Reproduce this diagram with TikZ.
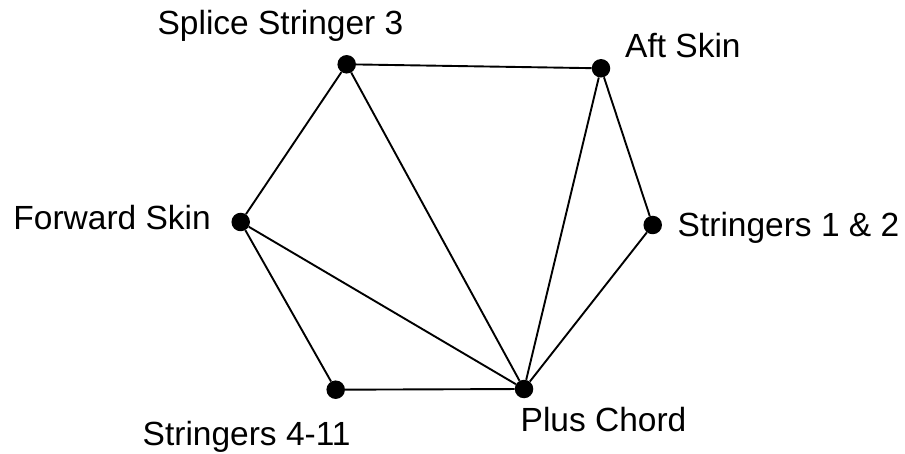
\documentclass[tikz,border=0pt]{standalone}
\usepackage{fontspec}
\setmainfont{Liberation Sans}
\usetikzlibrary{positioning}

\begin{document}
\begin{tikzpicture}[x=1pt, y=-1pt,
    joint/.style={circle, fill=black, inner sep=0pt, minimum size=18.5pt},
    lbl/.style={inner sep=0pt, font=\fontsize{33.5}{40}\selectfont},
    link/.style={line width=1.9pt}]
        \useasboundingbox (0,0) rectangle (905,454);
        % joints
        \node[joint] (ss) at (346.7,64.3) {};
        \node[joint] (aft) at (601,68.3) {};
        \node[joint] (s12) at (652.7,225) {};
        \node[joint] (pc) at (524,389) {};
        \node[joint] (s411) at (335.7,389.7) {};
        \node[joint] (fwd) at (240.7,222) {};
        % labels
        \node[lbl, anchor=base] (ssl) at (280.5,35) {Splice Stringer 3};
        \node[lbl, anchor=base west] (aftl) at (625,57.5) {Aft Skin};
        \node[lbl, anchor=base west] (s12l) at (677.5,237) {Stringers 1 \& 2};
        \node[lbl, anchor=base west] (pcl) at (520.5,431.5) {Plus Chord};
        \node[lbl, anchor=base west] (s411l) at (142.5,445) {Stringers 4-11};
        \node[lbl, anchor=base east] (fwdl) at (211,230) {Forward Skin};
        % members
        \draw[link] (ss) -- (aft);
        \draw[link] (ss) -- (fwd);
        \draw[link] (ss) -- (pc);
        \draw[link] (aft) -- (s12);
        \draw[link] (aft) -- (pc);
        \draw[link] (s12) -- (pc);
        \draw[link] (fwd) -- (pc);
        \draw[link] (fwd) -- (s411);
        \draw[link] (s411) -- (pc);
      \end{tikzpicture}
\end{document}
